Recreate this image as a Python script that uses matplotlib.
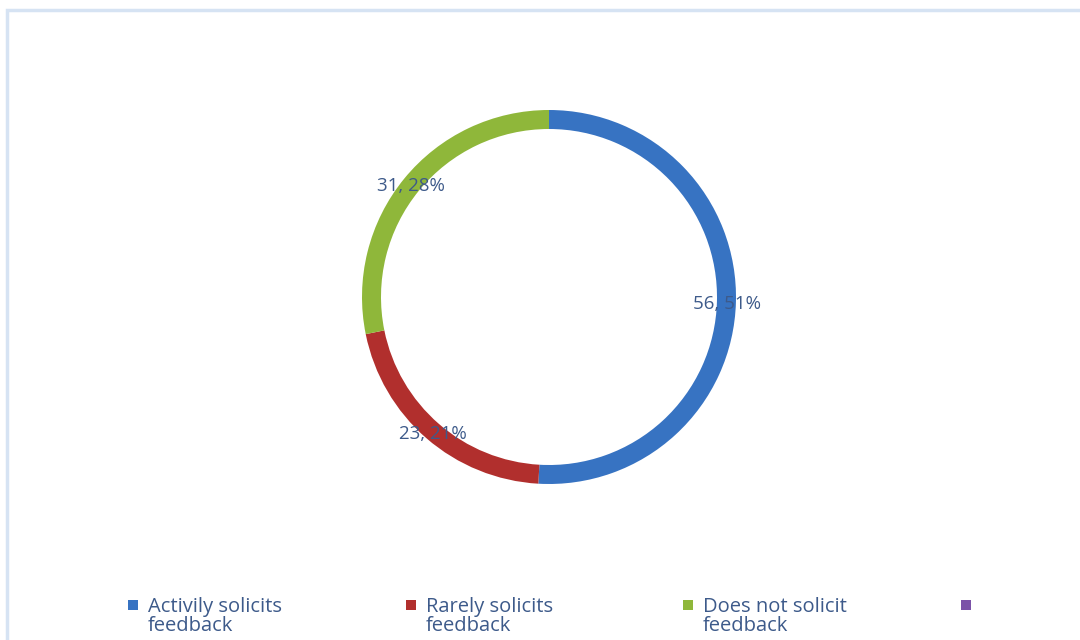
import matplotlib
matplotlib.use('Agg')
import matplotlib.pyplot as plt
from matplotlib.patches import Rectangle
import numpy as np

# data
labels = ['Activily solicits\nfeedback', 'Rarely solicits\nfeedback', 'Does not solicit\nfeedback', '']
values = [56, 23, 31]
colors = ['#3773c2', '#b12f2d', '#8fb73a', '#7b52a8']
txtcol = '#3d5a8a'

plt.rcParams['font.family'] = ['Open Sans', 'DejaVu Sans']

fig = plt.figure(figsize=(10.8, 6.4), dpi=100, facecolor='white')
ax = fig.add_axes([0, 0, 1, 1])                     # axes in pixel units

# chart frame
ax.add_patch(Rectangle((7, -10), 1100, 640, fill=False,
                       edgecolor='#d6e3f3', linewidth=2.5))

total = sum(values)
wedges, _ = ax.pie(values, colors=colors[:3], startangle=90, counterclock=False,
                   center=(549, 343), radius=187, frame=True,
                   wedgeprops=dict(width=19, linewidth=0))
ax.set_xlim(0, 1080)
ax.set_ylim(0, 640)
ax.axis('off')

# data labels at mid ring
cum = 0
for v in values:
    mid = (cum + v / 2) / total
    ang = np.deg2rad(90 - 360 * mid)
    r = 178
    ax.text(549 + r * np.cos(ang), 341 + r * np.sin(ang),
            '%d, %d%%' % (v, round(100 * v / total)),
            ha='center', va='center', fontsize=13.5, color=txtcol)
    cum += v

# legend
for i, (lab, c) in enumerate(zip(labels, colors)):
    x = 133 + i * 277.5
    ax.add_patch(Rectangle((x - 5, 640 - 610), 10, 10, facecolor=c, edgecolor='none'))
    ax.text(x + 15, 640 - 597, lab, ha='left', va='top', fontsize=14.5,
            color=txtcol, linespacing=0.95)

fig.savefig('out.png', dpi=100, facecolor='white')
